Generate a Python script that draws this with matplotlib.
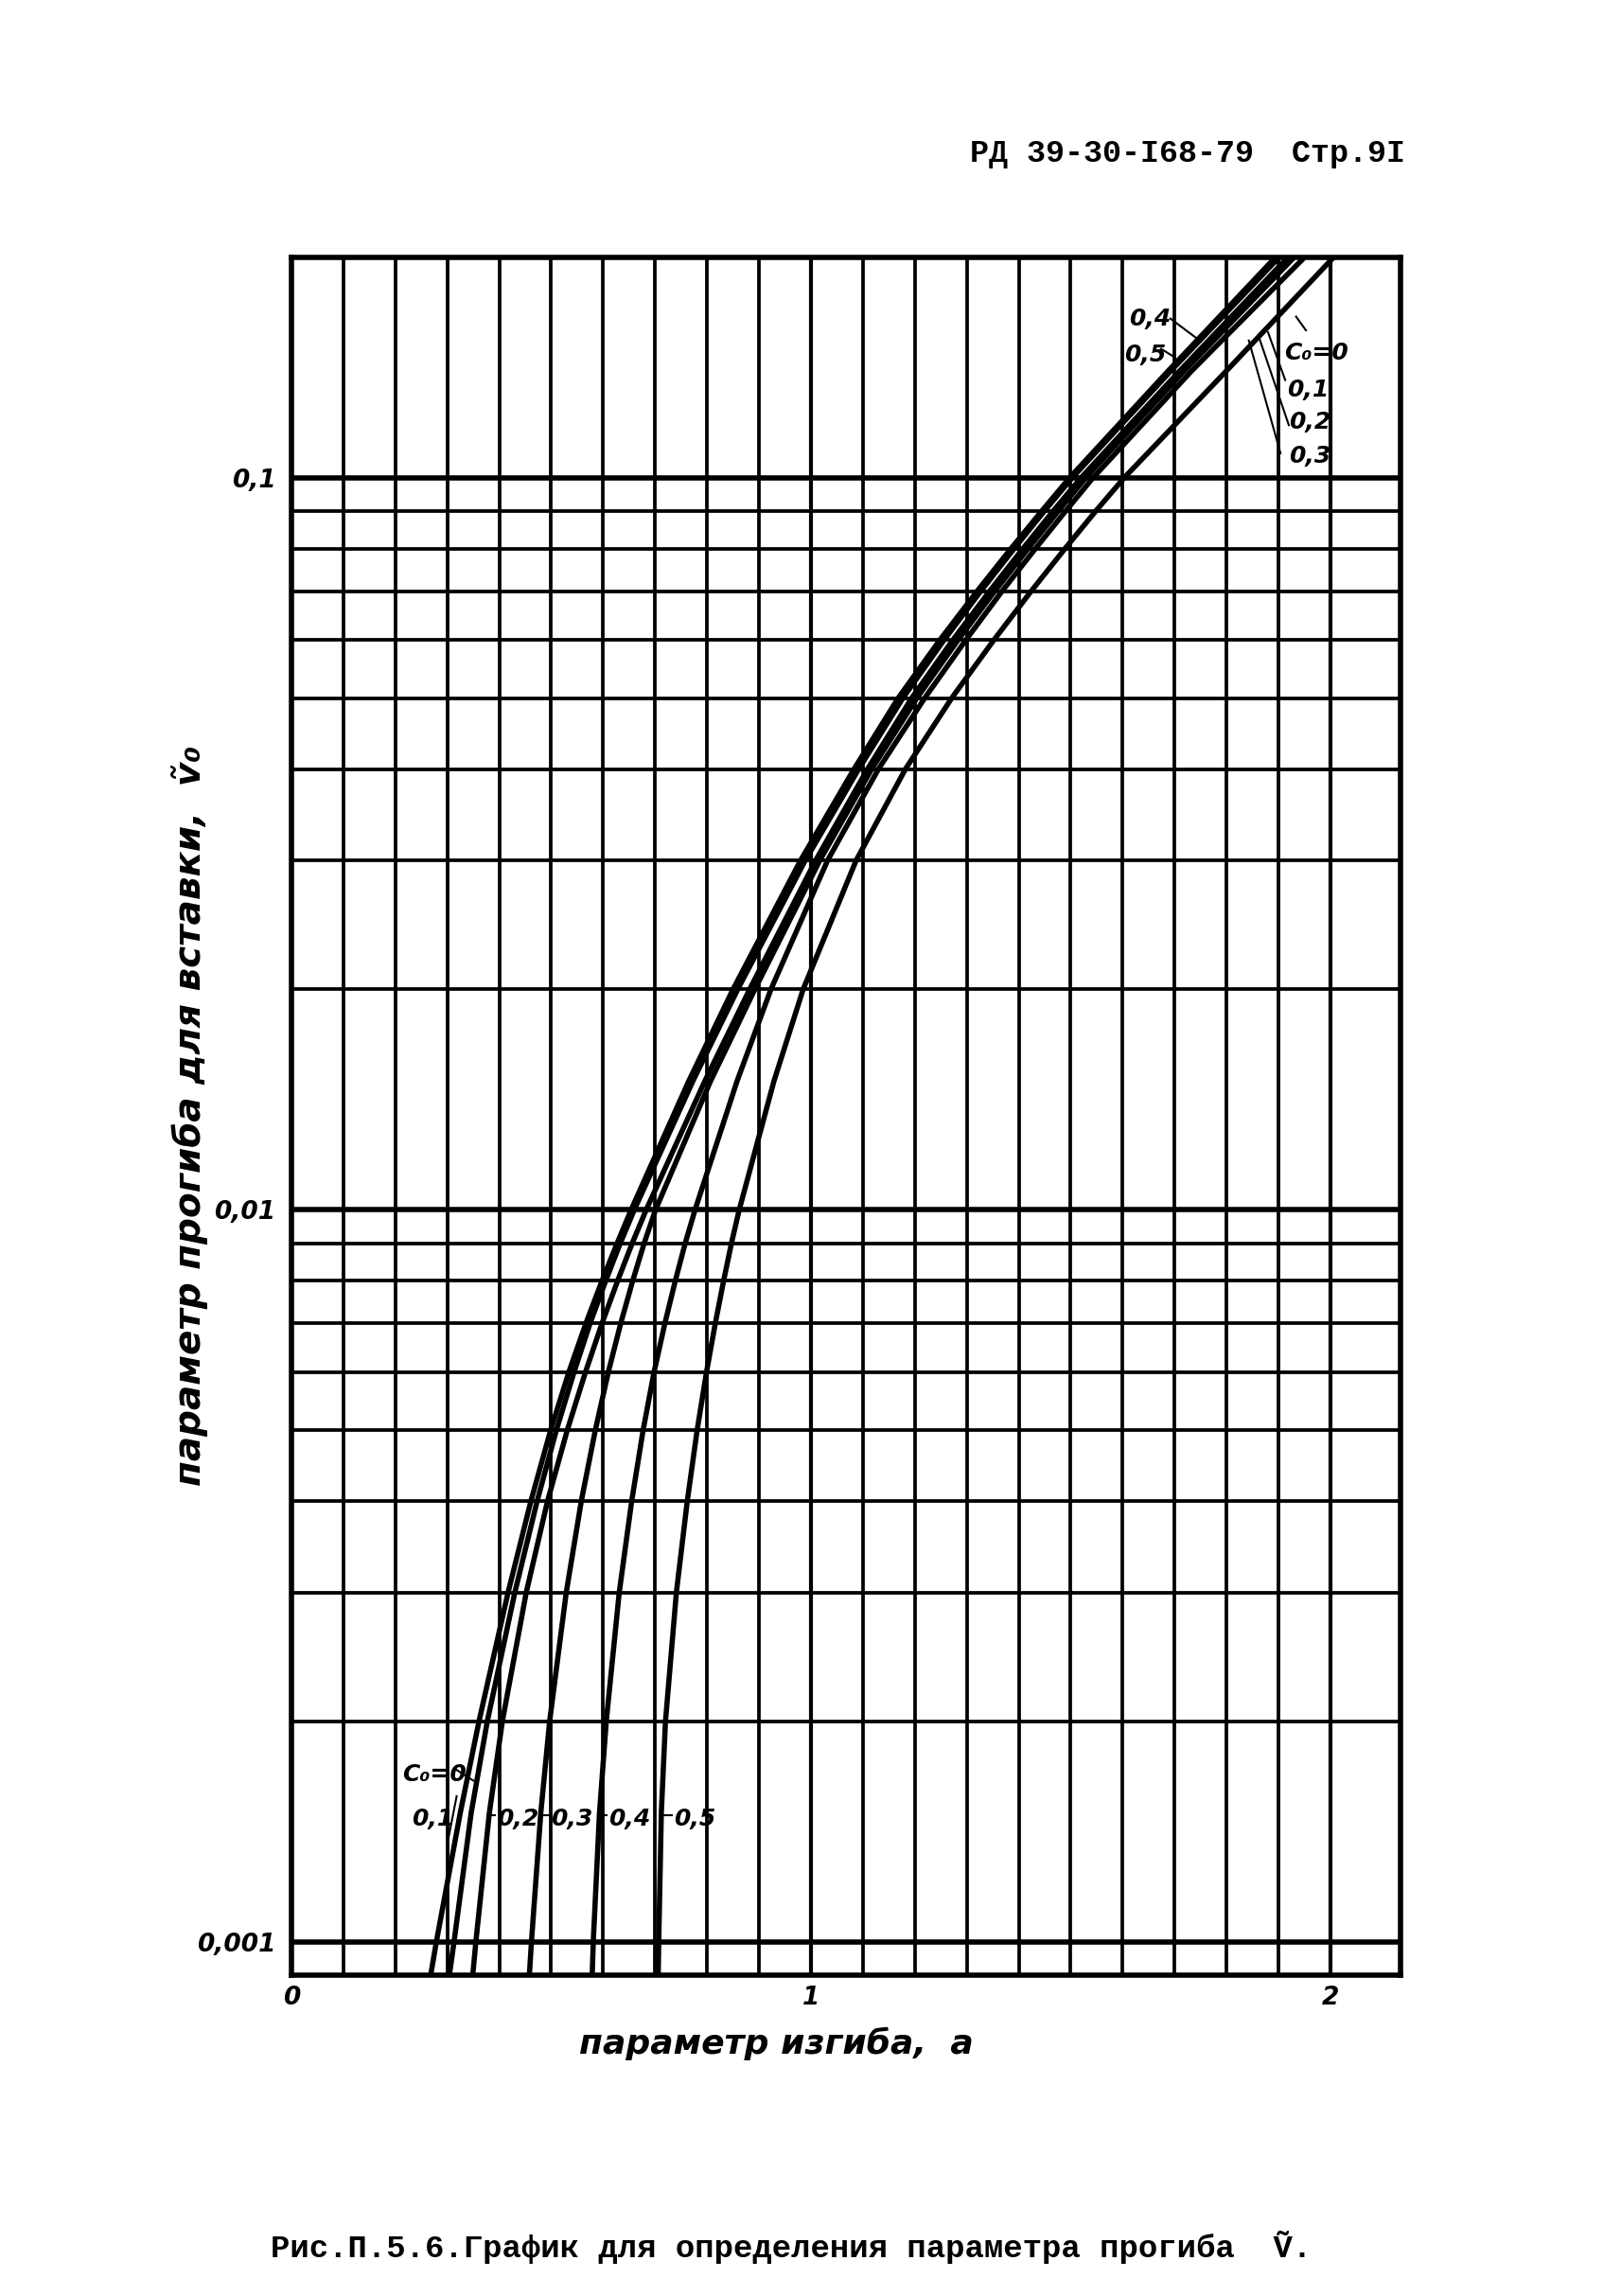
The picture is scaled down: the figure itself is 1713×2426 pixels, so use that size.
import matplotlib
matplotlib.use("Agg")
import matplotlib.pyplot as plt
from matplotlib.ticker import FixedLocator

plt.rcParams['font.family'] = ['DejaVu Sans']

v_levels = [0.0009, 0.001, 0.0015, 0.002, 0.003, 0.004, 0.005, 0.006, 0.007,
            0.008, 0.009, 0.01, 0.015, 0.02, 0.03, 0.04, 0.05, 0.06, 0.07,
            0.08, 0.09, 0.1, 0.14, 0.2]

# a (параметр изгиба) for each C0 at the levels above
a_c00 = [0.268, 0.279, 0.325, 0.361, 0.417, 0.461, 0.499, 0.534, 0.567, 0.598, 0.627, 0.654,
         0.765, 0.850, 0.980, 1.083, 1.168, 1.248, 1.320, 1.385, 1.444, 1.498, 1.688, 1.894]
a_c01 = [0.304, 0.313, 0.346, 0.377, 0.430, 0.473, 0.510, 0.544, 0.575, 0.605, 0.633, 0.660,
         0.773, 0.859, 0.989, 1.092, 1.177, 1.256, 1.327, 1.391, 1.449, 1.503, 1.693, 1.901]
a_c02 = [0.349, 0.355, 0.381, 0.406, 0.452, 0.493, 0.531, 0.566, 0.598, 0.628, 0.656, 0.683,
         0.796, 0.882, 1.009, 1.109, 1.194, 1.273, 1.344, 1.408, 1.466, 1.520, 1.710, 1.918]
a_c03 = [0.458, 0.462, 0.480, 0.497, 0.529, 0.558, 0.585, 0.610, 0.634, 0.657, 0.679, 0.701,
         0.807, 0.892, 1.017, 1.117, 1.204, 1.283, 1.354, 1.418, 1.476, 1.529, 1.719, 1.930]
a_c04 = [0.579, 0.581, 0.593, 0.606, 0.631, 0.655, 0.677, 0.698, 0.719, 0.739, 0.758, 0.777,
         0.858, 0.923, 1.032, 1.130, 1.219, 1.298, 1.368, 1.432, 1.490, 1.543, 1.733, 1.950]
a_c05 = [0.706, 0.707, 0.712, 0.720, 0.741, 0.762, 0.781, 0.799, 0.816, 0.832, 0.847, 0.862,
         0.929, 0.985, 1.087, 1.182, 1.271, 1.352, 1.424, 1.489, 1.548, 1.603, 1.800, 2.006]
curves = [a_c00, a_c01, a_c02, a_c03, a_c04, a_c05]

# labels at the lower ends of the curves
bottom_labels = ['0,2', '0,3', '0,4', '0,5']
bottom_label_a = [0.395, 0.500, 0.610, 0.736]
bottom_curve_a = [0.384, 0.481, 0.595, 0.713]

x_major = [0, 1, 2]
x_major_labels = ['0', '1', '2']
x_minor = [k / 10 for k in range(1, 21) if k % 10]
y_major = [0.001, 0.01, 0.1]
y_major_labels = ['0,001', '0,01', '0,1']
y_minor = [k * 10.0 ** e for e in (-3, -2) for k in range(2, 10)]

fig = plt.figure(figsize=(17.13, 24.26), dpi=100)
ax = fig.add_axes([308 / 1713, 1 - 2087 / 2426, (1480 - 308) / 1713, (2087 - 272) / 2426])

ax.set_yscale('log')
ax.set_xlim(0, 2.135)
ax.set_ylim(0.0009, 0.2)

ax.xaxis.set_major_locator(FixedLocator(x_major))
ax.xaxis.set_minor_locator(FixedLocator(x_minor))
ax.yaxis.set_major_locator(FixedLocator(y_major))
ax.yaxis.set_minor_locator(FixedLocator(y_minor))
ax.set_xticklabels(x_major_labels)
ax.set_yticklabels(y_major_labels)
ax.yaxis.set_minor_formatter(plt.NullFormatter())
ax.tick_params(which='both', length=0)
ax.tick_params(axis='y', pad=12, labelsize=19)
ax.tick_params(axis='x', pad=8, labelsize=19)
for lab in ax.get_xticklabels() + ax.get_yticklabels():
    lab.set_fontstyle('italic')
    lab.set_fontweight('bold')

ax.set_axisbelow(True)
ax.grid(True, which='minor', color='black', lw=2.7)
ax.grid(True, which='major', axis='x', color='black', lw=3.0)
ax.grid(True, which='major', axis='y', color='black', lw=4.0)
for sp in ax.spines.values():
    sp.set_linewidth(4)

for a_vals in curves:
    ax.plot(a_vals, v_levels, color='black', lw=4, solid_capstyle='butt',
            solid_joinstyle='round')

# labels near the bottom
lab_kw = dict(fontsize=18, fontweight='bold', fontstyle='italic', color='black')
ax.text(0.213, 0.00169, 'C₀=0', ha='left', va='center', **lab_kw)
ax.plot([0.316, 0.350], [0.00172, 0.00166], color='black', lw=1.5)
ax.text(0.231, 0.00147, '0,1', ha='left', va='center', **lab_kw)
ax.plot([0.300, 0.318], [0.00136, 0.00158], color='black', lw=1.5)
for txt, la, ca in zip(bottom_labels, bottom_label_a, bottom_curve_a):
    ax.text(la, 0.00147, txt, ha='left', va='center', **lab_kw)
    ax.plot([ca, la - 0.004], [0.00149, 0.00149], color='black', lw=1.5)

# labels near the top
ax.text(1.612, 0.165, '0,4', ha='left', va='center', **lab_kw)
ax.plot([1.692, 1.743], [0.165, 0.155], color='black', lw=1.5)
ax.text(1.603, 0.147, '0,5', ha='left', va='center', **lab_kw)
ax.plot([1.674, 1.701], [0.150, 0.146], color='black', lw=1.5)
ax.text(1.911, 0.148, 'C₀=0', ha='left', va='center', **lab_kw)
ax.plot([1.953, 1.934], [0.159, 0.166], color='black', lw=1.5)
ax.text(1.916, 0.132, '0,1', ha='left', va='center', **lab_kw)
ax.plot([1.913, 1.880], [0.136, 0.158], color='black', lw=1.5)
ax.text(1.920, 0.119, '0,2', ha='left', va='center', **lab_kw)
ax.plot([1.920, 1.862], [0.118, 0.156], color='black', lw=1.5)
ax.text(1.920, 0.107, '0,3', ha='left', va='center', **lab_kw)
ax.plot([1.904, 1.843], [0.108, 0.154], color='black', lw=1.5)

fig.text(0.479, 0.110, 'параметр изгиба,  a', ha='center', va='center',
         fontsize=26, fontweight='bold', fontstyle='italic')
fig.text(0.117, 0.514, 'параметр прогиба для вставки,  ṽ₀', ha='center', va='center',
         rotation=90, fontsize=28, fontweight='bold', fontstyle='italic')

fig.text(1485 / 1713, 1 - 162 / 2426, 'РД 39-30-I68-79  Стр.9I', ha='right', va='center',
         fontsize=24, fontweight='bold', family=['Liberation Mono', 'DejaVu Sans Mono'])
fig.text(286 / 1713, 1 - 2375 / 2426, 'Рис.П.5.6.График для определения параметра прогиба  Ṽ.',
         ha='left', va='center', fontsize=24.5, fontweight='bold',
         family=['Liberation Mono', 'DejaVu Sans Mono', 'DejaVu Sans'])

fig.savefig('out.png', dpi=100, facecolor='white')
